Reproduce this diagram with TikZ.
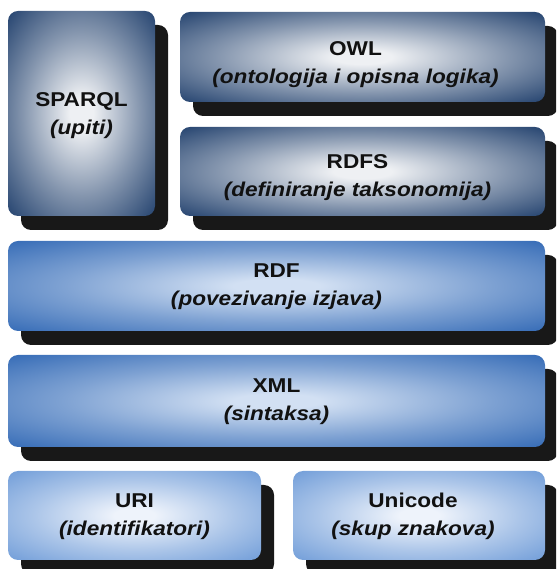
\documentclass[tikz,border=0pt]{standalone}
\usepackage{fontspec}
\setmainfont{Liberation Sans}[FakeStretch=1.13]
\usetikzlibrary{shadows}

% palette: edge and centre tones of the three layer families
\definecolor{navyE}{HTML}{1B3B69}
\definecolor{navyC}{HTML}{EEF0F3}
\definecolor{blueE}{HTML}{2A63B2}
\definecolor{blueC}{HTML}{D2E0F3}
\definecolor{skyE}{HTML}{6897D6}
\definecolor{skyC}{HTML}{EEF3FB}
\definecolor{shadowE}{HTML}{181818}
\definecolor{ink}{HTML}{111111}

\pgfdeclareradialshading{navyglow}{\pgfpoint{0bp}{0bp}}{%
  color(0bp)=(navyC); color(4bp)=(navyC); color(20bp)=(navyE!50!navyC);
  color(37bp)=(navyE); color(100bp)=(navyE)}
\pgfdeclareradialshading{blueglow}{\pgfpoint{0bp}{0bp}}{%
  color(0bp)=(blueC); color(4bp)=(blueC); color(20bp)=(blueE!50!blueC);
  color(38bp)=(blueE); color(100bp)=(blueE)}
\pgfdeclareradialshading{skyglow}{\pgfpoint{0bp}{0bp}}{%
  color(0bp)=(skyC); color(4bp)=(skyC); color(20bp)=(skyE!50!skyC);
  color(38bp)=(skyE); color(100bp)=(skyE)}

\tikzset{
  layerbox/.style={rectangle, rounded corners=10pt, inner sep=0pt,
    draw=none, shade,
    general shadow={shadow xshift=13pt, shadow yshift=-14pt,
      fill=shadowE}},
  topbox/.style={layerbox, shading=navyglow},
  midbox/.style={layerbox, shading=blueglow},
  lowbox/.style={layerbox, shading=skyglow},
  caption/.style={align=center, text=ink, inner sep=0pt,
    font=\fontsize{20}{28}\selectfont\bfseries},
}

\begin{document}
\begin{tikzpicture}[x=1pt, y=1pt]
  \useasboundingbox (0,0) rectangle (556,569);
  \clip (0,0) rectangle (556,569);

  % upper tier: query language beside the ontology layers
  \node[topbox, minimum width=147pt, minimum height=205pt] (sparql) at (81.5,455.5) {};
  \node[topbox, minimum width=365pt, minimum height=90pt]  (owl)    at (362.5,512) {};
  \node[topbox, minimum width=365pt, minimum height=89pt]  (rdfs)   at (362.5,397.5) {};

  % full-width data layers
  \node[midbox, minimum width=537pt, minimum height=90pt]  (rdf)    at (276.5,283) {};
  \node[midbox, minimum width=537pt, minimum height=92pt]  (xml)    at (276.5,168) {};

  % foundation
  \node[lowbox, minimum width=253pt, minimum height=89pt]  (uri)     at (134.5,53.5) {};
  \node[lowbox, minimum width=252pt, minimum height=89pt]  (unicode) at (419,53.5) {};

  % captions
  \node[caption] (sparql-t)  at ([yshift=-2pt]sparql.center)  {SPARQL\\\itshape(upiti)};
  \node[caption] (owl-t)     at ([xshift=-7pt,yshift=-8pt]owl.center)   {OWL\\\itshape(ontologija i opisna logika)};
  \node[caption] (rdfs-t)    at ([xshift=-5pt,yshift=-6pt]rdfs.center)  {RDFS\\\itshape(definiranje taksonomija)};
  \node[caption] (rdf-t)     at ([yshift=-1pt]rdf.center)     {RDF\\\itshape(povezivanje izjava)};
  \node[caption] (xml-t)     at ([yshift=-1pt]xml.center)     {XML\\\itshape(sintaksa)};
  \node[caption] (uri-t)     at ([yshift=-1pt]uri.center)     {URI\\\itshape(identifikatori)};
  \node[caption] (unicode-t) at ([xshift=-6pt,yshift=-1pt]unicode.center) {Unicode\\\itshape(skup znakova)};
\end{tikzpicture}
\end{document}
